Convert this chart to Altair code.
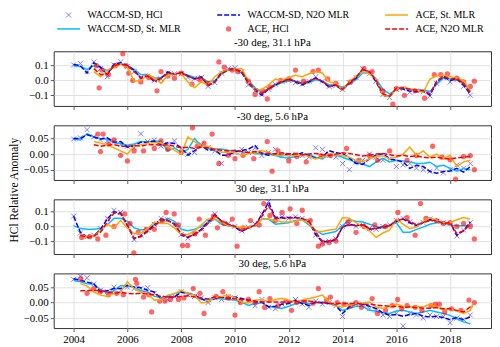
import altair as alt
import pandas as pd

FONT = "Liberation Serif"
X_DOMAIN = [2003.26, 2019.52]
YEAR_TICKS = [2004, 2006, 2008, 2010, 2012, 2014, 2016, 2018]
T0 = 2004.0
STEP = 0.25
T_LAST = 2018.85

TITLES = ["-30 deg, 31.1 hPa", "-30 deg, 5.6 hPa", "30 deg, 31.1 hPa", "30 deg, 5.6 hPa"]
Y_DOMAINS = [[-0.172, 0.197], [-0.083, 0.092], [-0.188, 0.184], [-0.082, 0.094]]
Y_TICKS = [[-0.1, 0.0, 0.1], [-0.05, 0.0, 0.05], [-0.1, 0.0, 0.1], [-0.05, 0.0, 0.05]]
Y_FORMATS = [".1f", ".2f", ".1f", ".2f"]
ACE_START = [3, 3, 1, 1]

# values in units of 1e-3 (relative anomaly), quarterly from 2004.0
P1_WACCM_HCL = [105, 115, 60, 125, 80, 25, 105, 125, 95, 60, 20, 30, 0, 10, 50, 45, 45, 20, 15, 20,
                -40, -15, 50, 80, 85, 60, -30, -70, -95, -60, -25, -5, 0, -15, -25, -5, 25, -5, -40, -35,
                -60, -15, 20, 80, 45, -5, -95, -115, -60, -55, -80, -70, -75, -105, -20, 20, -10, 5, -40, -100]
P1_WACCM_N2O = [108, 100, 50, 120, 90, 40, 110, 120, 100, 70, 15, 40, -10, 15, 58, 40, 54, 30, 10, 25,
                -35, -10, 55, 75, 80, 55, -20, -65, -100, -55, -30, -10, 10, -10, -30, -10, 18, -10, -43, -30,
                -65, -20, 15, 75, 55, -10, -100, -110, -55, -58, -72, -76, -70, -100, -10, 25, 0, 10, -30, -94]
P1_WACCM_ST = [100, 95, 75, 100, 90, 65, 95, 110, 100, 75, 40, 35, 15, 20, 45, 45, 50, 35, 20, 20,
               -10, 0, 45, 70, 75, 50, 0, -50, -80, -60, -35, -15, 0, -5, -20, -15, 5, -5, -30, -30,
               -45, -25, 5, 50, 50, 10, -60, -90, -60, -50, -60, -65, -65, -75, -25, 15, 10, 5, -20, -70]
P1_ACE_ST = [60, 25, 70, 85, 110, 90, -5, 0, 40, 20, -20, 35, 45, 45, -10, -50, -10, -30, 25, 60,
             70, 75, 80, -5, -65, -60, -30, 10, 0, 20, 35, 25, 45, 58, 50, -10, -20, -65, -10, 30,
             60, 45, 10, -100, -110, -60, -45, -55, -65, -80, 10, 30, 35, 25, 15, 0, -70]
P1_ACE_N2O = [80, 40, 40, 100, 110, 100, 60, 20, 30, 0, 15, 50, 45, 50, 30, 10, 20, -30, -10, 45,
              70, 75, 60, -10, -60, -90, -55, -25, -5, 10, -5, -20, -5, 15, -5, -40, -30, -60, -15, 20,
              75, 60, 0, -90, -105, -55, -50, -60, -65, -70, -90, -5, 30, 10, 15, -20, -80]
P1_ACE_T = [2004.85, 2004.95, 2005.05, 2005.3, 2005.55, 2005.83, 2005.95, 2006.05, 2006.2, 2006.5,
            2006.8, 2007.1, 2007.25, 2007.5, 2007.75, 2008.0, 2008.4, 2008.7, 2009.0, 2009.4,
            2009.6, 2009.9, 2010.1, 2010.5, 2010.75, 2011.05, 2011.2, 2011.3, 2011.7, 2012.0,
            2012.25, 2012.55, 2012.9, 2013.1, 2013.45, 2013.75, 2014.3, 2014.8, 2015.1, 2015.5,
            2015.87, 2016.0, 2016.3, 2016.7, 2017.05, 2017.41, 2017.65, 2017.9, 2018.25, 2018.5,
            2018.75, 2018.9]
P1_ACE_V = [100, -50, 70, 40, 100, 180, 100, 50, 0, -10, 20, -70, 60, 30, 15, 50, -25, 5, -20, 125,
            90, 70, 60, -5, -95, -70, -125, -45, 0, 10, 70, -5, 60, 70, 10, -20, -10, 80, 60, -70,
            -160, -55, -100, -70, -120, 40, 40, 45, 15, -10, -40, -5]

P2_WACCM_HCL = [48, 52, 78, 55, 45, 42, 40, 30, 25, 20, 65, 40, 45, 25, 30, 42, 18, 0, 5, 30,
                20, 10, -30, 0, 5, 15, 5, 20, -5, 5, 15, -5, -10, 0, -5, -10, 20, 15, -5, -10,
                -30, -50, -25, -20, 0, -10, -20, -15, -40, -35, -30, -45, -50, -55, -45, -60, -50, -35, -45, -30]
P2_WACCM_N2O = [50, 50, 62, 55, 48, 52, 38, 40, 22, 26, 38, 38, 42, 30, 36, 34, 20, -4, 11, 26,
                12, 14, -4, -4, 8, 11, 16, 27, 1, -4, 1, -4, 1, -4, 4, -4, -14, -9, 11, 4,
                1, -12, -30, -33, -15, -4, 1, -15, -20, -25, -46, -36, -40, -56, -61, -56, -54, -46, -58, -40]
P2_WACCM_ST = [48, 45, 65, 55, 50, 48, 36, 33, 28, 32, 40, 38, 42, 40, 10, 20, 5, 15, 50, 25,
               18, 16, 16, 12, 10, 7, 4, 1, 1, 0, -5, -10, -13, -8, -4, -2, -10, -16, 0, -4,
               -10, -18, -28, -32, -40, -25, -14, -25, -20, -22, -25, -30, -30, -26, -40, -36, -45, -55, -46, -50]
P2_ACE_ST = [40, 35, 30, 20, 10, 0, 25, 30, 35, 36, 36, 25, 12, 0, 55, 40, 25, 25, 15, 6,
             6, 6, -4, 1, 4, 11, 6, -4, -4, -6, -4, -2, -8, -16, -10, 1, -2, -4, -10, -20,
             -25, -15, -8, -6, -15, -10, 0, 22, -4, 10, -10, 0, -15, -4, -40, -25, -20]
P2_ACE_N2O = [30, 25, 28, 30, 26, 24, 28, 25, 30, 30, 28, 30, 25, 20, 22, 18, 22, 20, 15, 12,
              10, 12, 8, 5, 8, 4, 2, 0, 4, 0, 2, -2, 0, 2, -2, -4, 0, 4, 2, -2,
              -6, -4, 0, 2, -2, -6, -4, -8, -6, -10, -12, -10, -14, -16, -12, -10, -8]
P2_ACE_T = [2004.9, 2005.0, 2005.1, 2005.3, 2005.5, 2005.75, 2006.0, 2006.25, 2006.6, 2007.0,
            2007.25, 2007.5, 2008.0, 2008.42, 2008.6, 2008.85, 2009.15, 2009.4, 2009.75, 2010.0,
            2010.3, 2010.7, 2011.2, 2011.38, 2011.6, 2012.0, 2012.3, 2012.65, 2013.2, 2013.55,
            2014.15, 2014.6, 2015.0, 2015.3, 2015.75, 2016.4, 2016.75, 2017.35, 2017.7, 2018.0,
            2018.2, 2018.5, 2018.75, 2018.9]
P2_ACE_V = [64, 8, 64, 32, 45, -4, -22, 10, 10, 18, 42, 15, 5, 84, 25, 35, 64, -30, -4, -15,
            -4, -15, 40, -55, 10, -22, -8, -25, -5, -5, 18, -20, -5, -20, 10, -20, -5, 25, -10, -18,
            -80, -8, -5, -50]

P3_WACCM_HCL = [70, -45, -70, -60, -15, 55, 110, 95, 10, -90, -60, -25, 15, 55, 45, 10, -55, -80, -50, -15,
                35, 85, 30, 20, 0, -30, -5, 15, 85, 170, 55, 65, 55, 65, 55, 35, -60, -110, -100, -85,
                0, 20, 0, 10, -15, -20, 0, 10, 40, 55, 30, 10, 25, 50, 35, 25, 20, -65, -25, 25]
P3_WACCM_N2O = [69, -40, -75, -65, -20, 50, 100, 90, 5, -85, -65, -30, 10, 50, 40, 15, -60, -75, -55, -20,
                30, 80, 35, 15, -5, -35, -10, 10, 80, 165, 60, 60, 60, 60, 50, 30, -55, -105, -105, -90,
                -5, 15, 5, 15, -20, -15, -5, 5, 35, 50, 25, 5, 30, 45, 40, 20, 25, -60, -30, 30]
P3_WACCM_ST = [5, -15, -20, -20, -15, 10, 55, 55, 35, -10, -25, -20, 10, 30, 55, 35, -20, -30, -20, 0,
               25, 50, 15, 5, -5, -10, -5, 0, 50, 50, 15, 20, 25, 40, 45, 10, -25, -55, -45, -35,
               5, 45, 35, 30, 15, 0, -10, 5, 25, -40, -40, -20, -5, 15, 25, 25, 10, 5, 5, 5]
P3_ACE_ST = [-50, -75, -65, -30, 15, -10, 40, -10, -50, -45, -15, 30, 20, 20, -10, -55, -55, -30, 10, 50,
             50, 30, 5, -5, -5, -5, 5, 50, 50, 40, 30, 30, 35, 45, 20, -35, -35, -25, -20, 60,
             55, 25, 0, -30, -75, -45, -25, 50, 15, -15, -5, 35, 60, 40, 25, 25, 45, 60, 50]
P3_ACE_N2O = [-60, -75, -65, -40, 30, 90, 85, 10, -80, -70, -35, 0, 45, 40, 20, -50, -70, -55, -25, 20,
              75, 35, 15, 0, -30, -10, 10, 70, 140, 55, 55, 55, 60, 55, 35, -40, -100, -100, -85, -5,
              10, 5, 10, -15, -15, 0, 5, 40, 50, 35, 10, 25, 40, 40, 20, 25, -50, -30, 15]
P3_ACE_T = [2004.3, 2004.6, 2004.9, 2005.2, 2005.5, 2005.9, 2006.1, 2006.24, 2006.4, 2006.7,
            2007.0, 2007.3, 2007.44, 2007.74, 2007.9, 2008.05, 2008.24, 2008.5, 2008.67, 2008.9,
            2009.2, 2009.35, 2009.6, 2009.9, 2010.08, 2010.3, 2010.58, 2010.9, 2011.07, 2011.3,
            2011.5, 2011.75, 2012.05, 2012.3, 2012.5, 2012.8, 2013.1, 2013.25, 2013.5, 2013.75,
            2014.2, 2014.5, 2014.8, 2015.2, 2015.6, 2016.06, 2016.4, 2016.7, 2016.9, 2017.1,
            2017.5, 2017.75, 2018.0, 2018.25, 2018.5, 2018.75, 2018.9]
P3_ACE_V = [-75, -70, -85, -60, 0, 85, 20, -180, -40, -20, -20, 40, 95, 85, 10, -130, -130, -50, 50, -60,
            70, -10, 20, 50, -135, -10, 40, 10, 155, 75, 40, 95, 120, 20, 110, 40, -135, -120, -110, -100,
            30, -40, 0, 10, 0, 95, 60, -60, 155, 55, 40, 20, 25, 0, 20, 0, -85]

P4_WACCM_HCL = [75, 85, 80, 60, 40, 35, 50, 40, 50, 45, 45, 48, 30, 15, 10, 20, 35, 25, 20, 15,
                0, 15, 10, 20, 15, 5, 5, -10, 10, -15, -20, -5, 0, 10, -5, -15, 5, -5, 0, -10,
                -45, -10, -5, -5, -20, -25, -40, -45, -35, -75, -35, -40, -50, -40, -45, -45, -65, -50, -55, -40]
P4_WACCM_N2O = [77, 72, 66, 61, 34, 38, 45, 45, 56, 50, 48, 40, 34, 13, 18, 18, 34, 29, 24, 13,
                2, 13, 18, 13, 18, 13, 8, 2, 2, -14, -12, -5, -3, 8, -3, -9, 2, -1, -3, -9,
                -35, -14, -3, -5, -12, -19, -33, -41, -38, -44, -38, -35, -44, -46, -44, -48, -55, -48, -55, -46]
P4_WACCM_ST = [72, 67, 61, 59, 42, 31, 38, 55, 53, 50, 38, 34, 20, 16, 20, 29, 34, 31, 24, 10,
               10, 13, 12, 10, 8, 2, -9, -3, -1, -12, -16, -19, -12, -3, -1, -3, -1, 2, -1, -9,
               -25, -19, -12, -12, -25, -27, -33, -35, -27, -25, -30, -35, -30, -25, -30, -35, -41, -52, -62, -68]
P4_ACE_ST = [61, 53, 34, 24, 20, 29, 34, 67, 45, 34, 29, 8, 10, 24, 29, 40, 29, 24, -1, 2,
             16, 20, 24, 16, 2, -1, 8, 10, 2, 10, 13, 8, 2, 8, 13, 18, 24, 2, -12, -14,
             -9, -3, -1, 2, -14, -19, -12, -5, -12, -14, -12, -14, -5, -14, -23, -19, -27, -35, -25, -3]
P4_ACE_N2O = [38, 38, 40, 38, 35, 30, 33, 30, 28, 30, 28, 25, 20, 18, 18, 20, 22, 18, 15, 12,
              18, 16, 14, 12, 10, 8, 5, 2, 2, 2, 2, 2, 2, 5, 5, 2, 0, -3, -3, -3,
              -3, -3, -5, -5, -8, -10, -12, -12, -15, -14, -16, -18, -18, -16, -20, -20, -25, -30, -14, -14]
P4_ACE_T = [2004.27, 2004.5, 2004.75, 2005.0, 2005.3, 2005.6, 2005.85, 2006.3, 2006.35, 2006.6,
            2006.8, 2006.9, 2007.2, 2007.4, 2007.6, 2007.9, 2008.1, 2008.45, 2008.7, 2008.85,
            2009.3, 2009.55, 2009.75, 2010.0, 2010.2, 2010.5, 2010.75, 2010.9, 2011.1, 2011.3,
            2011.6, 2011.9, 2012.1, 2012.3, 2012.6, 2012.9, 2013.1, 2013.4, 2013.55, 2013.8,
            2014.05, 2014.3, 2014.5, 2014.7, 2015.1, 2015.3, 2015.6, 2015.85, 2016.05, 2016.2,
            2016.4, 2016.7, 2016.95, 2017.3, 2017.45, 2017.6, 2017.8, 2018.05, 2018.4, 2018.7,
            2018.9]
P4_ACE_V = [77, 30, 45, 35, 25, 30, 25, 75, 62, 18, 25, -30, 5, 5, 10, 10, 15, 45, 30, -35,
            20, 35, 15, -40, 0, 10, 0, 35, -15, 13, -10, 5, -25, 0, 5, -2, 45, 8, 18, 0,
            -5, -10, 0, -15, 13, -35, -25, -10, 10, -20, -10, -15, -25, -10, -5, -5, -30, -20, -25, 8,
            0]

PANEL_DATA = [
    (P1_WACCM_HCL, P1_WACCM_ST, P1_WACCM_N2O, P1_ACE_ST, P1_ACE_N2O, P1_ACE_T, P1_ACE_V),
    (P2_WACCM_HCL, P2_WACCM_ST, P2_WACCM_N2O, P2_ACE_ST, P2_ACE_N2O, P2_ACE_T, P2_ACE_V),
    (P3_WACCM_HCL, P3_WACCM_ST, P3_WACCM_N2O, P3_ACE_ST, P3_ACE_N2O, P3_ACE_T, P3_ACE_V),
    (P4_WACCM_HCL, P4_WACCM_ST, P4_WACCM_N2O, P4_ACE_ST, P4_ACE_N2O, P4_ACE_T, P4_ACE_V),
]

LEG_LABELS = ["WACCM-SD, HCl", "WACCM-SD, N2O MLR", "ACE, St. MLR",
              "WACCM-SD, St. MLR", "ACE, HCl", "ACE, N2O MLR"]
LEG_COL = [0, 1, 2, 0, 1, 2]
LEG_ROW = [0, 0, 0, 1, 1, 1]

C_BLUE = "#0000ff"
C_SKY = "#00bfff"
C_RED = "#ff0000"
C_ORANGE = "#ffa500"
XPATH = "M-1,-1L1,1M-1,1L1,-1"

PW, PH = 440, 55


def series_df(vals, start):
    return pd.DataFrame({
        "t": [min(T0 + STEP * (start + k), T_LAST) for k in range(len(vals))],
        "v": [x / 1000.0 for x in vals],
    })


def make_panel(idx):
    whcl, wst, wn2o, ast, an2o, dt, dv = PANEL_DATA[idx]
    last = idx == 3
    x = alt.X("t:Q", title=None,
              scale=alt.Scale(domain=X_DOMAIN, nice=False, zero=False),
              axis=alt.Axis(values=YEAR_TICKS, format="d", labels=last, grid=True))
    if idx == 1:
        yaxis = alt.Axis(values=Y_TICKS[idx], format=Y_FORMATS[idx], grid=True,
                         title="HCl Relative Anomaly", titleY=64.75, titlePadding=3)
        y = alt.Y("v:Q", scale=alt.Scale(domain=Y_DOMAINS[idx], nice=False, zero=False), axis=yaxis)
    else:
        yaxis = alt.Axis(values=Y_TICKS[idx], format=Y_FORMATS[idx], grid=True)
        y = alt.Y("v:Q", title=None,
                  scale=alt.Scale(domain=Y_DOMAINS[idx], nice=False, zero=False), axis=yaxis)
    enc = dict(x=x, y=y)
    s = ACE_START[idx]
    l1 = alt.Chart(series_df(whcl, 0)).mark_point(
        shape=XPATH, size=25, filled=False, strokeWidth=1, color=C_BLUE, opacity=0.5).encode(**enc)
    l2 = alt.Chart(series_df(wst, 0)).mark_line(color=C_SKY, strokeWidth=1.5).encode(**enc)
    l3 = alt.Chart(series_df(wn2o, 0)).mark_line(
        color=C_BLUE, strokeWidth=1.5, strokeDash=[5, 2]).encode(**enc)
    dots = pd.DataFrame({"t": dt, "v": [v / 1000.0 for v in dv]})
    l4 = alt.Chart(dots).mark_circle(color=C_RED, opacity=0.6, size=28).encode(**enc)
    l5 = alt.Chart(series_df(ast, s)).mark_line(color=C_ORANGE, strokeWidth=1.5).encode(**enc)
    l6 = alt.Chart(series_df(an2o, s)).mark_line(
        color=C_RED, strokeWidth=1.5, strokeDash=[5, 2]).encode(**enc)
    return alt.layer(l1, l2, l3, l4, l5, l6).properties(
        width=PW, height=PH,
        title=alt.TitleParams(TITLES[idx], font=FONT, fontSize=11, fontWeight="normal",
                              color="black", offset=-6, baseline="alphabetic", anchor="middle"),
    )


leg_df = pd.DataFrame({"label": LEG_LABELS, "col": LEG_COL, "row": LEG_ROW})
lx = alt.X("col:Q", scale=alt.Scale(domain=[0, 1, 2], range=[15, 176, 345], nice=False, zero=False), axis=None)
ly = alt.Y("row:Q", scale=alt.Scale(domain=[0, 1], range=[5, 19], nice=False, zero=False), axis=None)
lbase = alt.Chart(leg_df)
leg_text = lbase.mark_text(align="left", baseline="middle", dx=19, font=FONT,
                           fontSize=10, color="black").encode(x=lx, y=ly, text="label:N")
leg_cross = lbase.transform_filter(alt.datum.label == "WACCM-SD, HCl").mark_point(
    shape=XPATH, size=25, filled=False, strokeWidth=1, color=C_BLUE, opacity=0.5).encode(x=lx, y=ly)
leg_dot = lbase.transform_filter(alt.datum.label == "ACE, HCl").mark_circle(
    color=C_RED, opacity=0.6, size=28).encode(x=lx, y=ly)


def leg_line(label, color, dash):
    kw = dict(color=color, strokeWidth=1.5, xOffset=-11.5, x2Offset=11.5)
    if dash:
        kw["strokeDash"] = [5, 2]
    return lbase.transform_filter(alt.datum.label == label).mark_rule(**kw).encode(
        x=lx, x2="col:Q", y=ly)


legend = alt.layer(
    leg_cross, leg_dot,
    leg_line("WACCM-SD, N2O MLR", C_BLUE, True),
    leg_line("ACE, St. MLR", C_ORANGE, False),
    leg_line("WACCM-SD, St. MLR", C_SKY, False),
    leg_line("ACE, N2O MLR", C_RED, True),
    leg_text,
).properties(width=PW, height=21.5, view=alt.ViewBackground(stroke="transparent"))

chart = alt.vconcat(
    legend, *[make_panel(i) for i in range(4)], spacing=19.5, bounds="flush"
).properties(padding=0).configure_view(
    stroke="#333333", strokeWidth=1
).configure_axis(
    labelFont=FONT, labelFontSize=11, labelColor="black",
    titleFont=FONT, titleFontSize=11.5, titleFontWeight="normal", titleColor="black",
    tickColor="#333333", tickSize=3.5, tickWidth=0.8,
    gridColor="#d9d9d9", gridWidth=0.8, domain=False, labelPadding=2, labelFlush=False,
)

chart.save("out.html", embed_options={"renderer": "svg", "actions": False})
